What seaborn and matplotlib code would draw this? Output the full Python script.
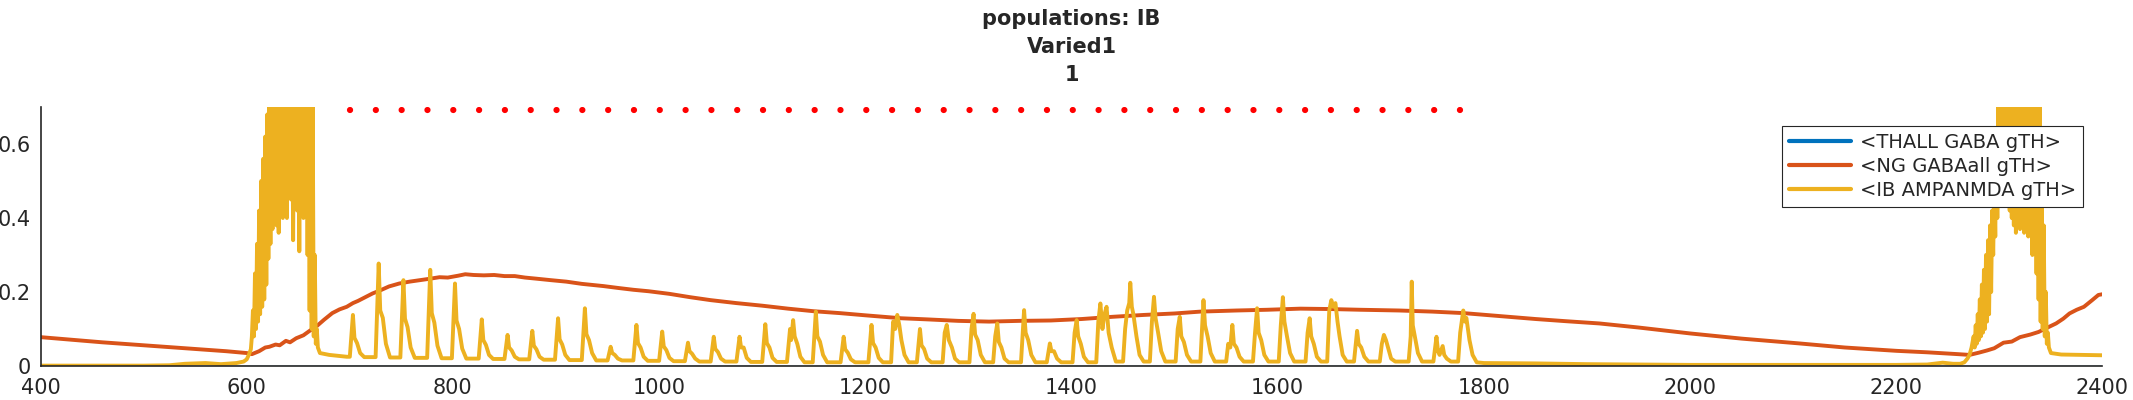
import matplotlib
matplotlib.use('Agg')
import numpy as np
import pandas as pd
import seaborn as sns
import matplotlib.pyplot as plt

# --- data (time in ms, conductance) ---
thall_t = [400, 2400]
thall_v = [0.0, 0.0]

ng_curve = [
    (400, .078), (430, .071), (460, .064), (490, .058), (520, .052), (550, .046),
    (580, .040), (600, .035), (605, .032), (612, .040), (618, .050), (622, .052),
    (628, .058), (632, .056), (638, .068), (642, .064), (648, .075), (655, .083),
    (661, .095), (668, .108), (675, .125), (683, .143), (690, .153), (697, .160),
    (703, .170), (708, .176), (715, .186), (722, .196), (730, .205), (738, .215),
    (748, .223), (758, .228), (768, .232), (778, .236), (787, .240), (795, .239),
    (805, .244), (812, .248), (820, .246), (830, .245), (840, .246), (850, .243),
    (860, .243), (870, .239), (881, .236), (895, .232), (910, .228), (925, .222),
    (946, .216), (960, .211), (975, .206), (990, .202), (1010, .195), (1030, .186),
    (1050, .178), (1075, .170), (1100, .163), (1125, .155), (1150, .148), (1175, .143),
    (1200, .137), (1235, .129), (1260, .126), (1290, .122), (1320, .120), (1350, .122),
    (1380, .123), (1410, .127), (1440, .133), (1470, .138), (1500, .142), (1525, .147),
    (1560, .150), (1590, .152), (1622, .155), (1650, .154), (1680, .152), (1718, .150),
    (1750, .147), (1780, .143), (1815, .135), (1850, .127), (1880, .121), (1912, .115),
    (1950, .104), (2000, .088), (2050, .074), (2106, .061), (2150, .050), (2200, .041),
    (2230, .037), (2260, .032), (2271, .030), (2280, .036), (2288, .042), (2295, .048),
    (2304, .063), (2312, .066), (2320, .078), (2330, .085), (2338, .092), (2346, .103),
    (2355, .115), (2362, .128), (2368, .142), (2375, .152), (2382, .160), (2390, .178),
    (2396, .192), (2400, .194),
]

ib_burst1 = [
    (400, .001), (450, .001), (500, .001), (525, .002), (540, .006), (560, .008),
    (575, .005), (590, .008), (597, .012), (600, .018), (602, .030), (604, .045),
    (605, .08), (606, .15), (607, .08), (608, .25), (609, .10), (610, .33),
    (611, .12), (612, .42), (613, .14), (614, .50), (615, .16), (616, .56),
    (617, .18), (618, .62), (619, .22), (620, .68), (621, .29), (622, .75),
    (623, .33), (624, .80), (625, .37), (626, .78), (627, .45), (628, .80),
    (629, .38), (630, .76), (631, .36), (632, .80), (633, .50), (634, .78),
    (635, .40), (636, .80), (637, .52), (638, .79), (639, .40), (640, .80),
    (641, .55), (642, .78), (643, .45), (644, .80), (645, .34), (646, .77),
    (647, .50), (648, .80), (649, .42), (650, .78), (651, .31), (652, .80),
    (653, .45), (654, .76), (655, .40), (656, .80), (657, .42), (658, .78),
    (659, .30), (660, .76), (661, .15), (662, .75), (663, .10), (664, .72),
    (665, .08), (666, .30), (667, .06), (668, .10), (669, .05), (671, .035),
    (680, .030), (690, .027), (697, .025),
]

ib_spikes = [
    (700, .025), (703, .138), (704.5, .076), (707, .062), (710, .035), (714, .024),
    (725, .024), (728, .277), (729.5, .150), (732, .130), (735, .060), (739, .023),
    (749, .023), (752, .232), (753.5, .128), (756, .105), (759, .050), (763, .022),
    (775, .022), (778, .260), (779.5, .143), (782, .117), (785, .055), (789, .021),
    (799, .021), (802, .223), (803.5, .123), (806, .100), (809, .047), (813, .020),
    (825, .020), (828, .126), (829.5, .070), (832, .057), (835, .030), (839, .019),
    (850, .019), (853, .084), (854.5, .050), (857, .042), (860, .025), (864, .018),
    (874, .018), (877, .095), (878.5, .055), (881, .045), (884, .025), (888, .017),
    (899, .017), (902, .129), (903.5, .072), (906, .058), (909, .030), (913, .016),
    (925, .016), (928, .156), (929.5, .086), (932, .070), (935, .035), (939, .015),
    (950, .015), (953, .052), (954.5, .035), (957, .030), (960, .020), (964, .015),
    (975, .015), (978, .111), (979.5, .062), (982, .050), (985, .025), (989, .014),
    (1000, .014), (1003, .093), (1004.5, .053), (1007, .043), (1010, .022), (1014, .013),
    (1025, .013), (1028, .063), (1029.5, .040), (1032, .033), (1035, .020), (1039, .012),
    (1050, .012), (1053, .079), (1054.5, .046), (1057, .038), (1060, .020), (1064, .012),
    (1075, .012), (1078, .079), (1079.5, .050), (1082, .050), (1085, .022), (1089, .011),
    (1100, .011), (1103, .113), (1104.5, .062), (1107, .050), (1110, .022), (1114, .011),
    (1124, .011), (1127, .100), (1128, .070), (1130, .124), (1131.5, .080), (1134, .060),
    (1137, .025), (1141, .010),
    (1149, .010), (1152, .147), (1153.5, .080), (1156, .066), (1159, .030), (1163, .010),
    (1176, .010), (1179, .079), (1180.5, .045), (1183, .036), (1186, .018), (1190, .010),
    (1203, .010), (1206, .111), (1207.5, .062), (1210, .050), (1213, .022), (1217, .010),
    (1225, .010), (1227, .120), (1229, .100), (1231, .138), (1233, .110), (1235, .070),
    (1238, .030), (1242, .010),
    (1250, .010), (1253, .100), (1254.5, .056), (1257, .046), (1260, .020), (1264, .010),
    (1275, .010), (1277, .090), (1279, .111), (1281, .070), (1284, .050), (1287, .020),
    (1291, .010),
    (1301, .010), (1303, .100), (1305, .141), (1306.5, .085), (1309, .070), (1312, .030),
    (1316, .010),
    (1324, .010), (1326, .080), (1328, .115), (1329.5, .065), (1332, .050), (1335, .020),
    (1339, .010),
    (1351, .010), (1354, .151), (1355.5, .090), (1358, .070), (1361, .030), (1365, .010),
    (1376, .010), (1379, .061), (1380.5, .040), (1383, .040), (1386, .020), (1390, .010),
    (1401, .010), (1403, .090), (1405, .124), (1406.5, .080), (1409, .060), (1412, .025),
    (1416, .010),
    (1424, .010), (1426, .120), (1428, .169), (1430, .100), (1432, .140), (1434, .160),
    (1436, .090), (1439, .050), (1443, .012),
    (1450, .012), (1452, .100), (1454, .150), (1456, .170), (1457, .225), (1458.5, .160),
    (1460, .140), (1463, .080), (1466, .030), (1470, .012),
    (1476, .012), (1478, .120), (1480, .187), (1481.5, .130), (1484, .090), (1487, .040),
    (1491, .012),
    (1501, .012), (1503, .100), (1505, .133), (1506.5, .080), (1509, .065), (1512, .030),
    (1516, .012),
    (1525, .012), (1528, .178), (1529.5, .110), (1532, .080), (1535, .035), (1539, .012),
    (1550, .012), (1552, .060), (1554, .050), (1556, .111), (1557.5, .060), (1560, .050),
    (1563, .025), (1567, .012),
    (1576, .012), (1578, .090), (1580, .156), (1581.5, .090), (1584, .070), (1587, .030),
    (1591, .012),
    (1601, .012), (1603, .110), (1605, .186), (1606.5, .120), (1609, .080), (1612, .035),
    (1616, .012),
    (1627, .012), (1629, .090), (1631, .129), (1632.5, .080), (1635, .060), (1638, .025),
    (1642, .012),
    (1648, .012), (1650, .150), (1652, .178), (1654, .160), (1656, .170), (1658, .120),
    (1660, .080), (1663, .030), (1667, .012),
    (1674, .012), (1677, .095), (1678.5, .060), (1681, .050), (1684, .025), (1688, .012),
    (1699, .012), (1701, .060), (1703, .084), (1705, .070), (1707, .050), (1710, .020),
    (1714, .012),
    (1727, .012), (1729, .080), (1730, .228), (1731, .110), (1733, .080), (1736, .035),
    (1740, .012),
    (1751, .012), (1754, .079), (1755.5, .040), (1757, .030), (1760, .054), (1761.5, .030),
    (1764, .020), (1768, .012),
    (1775, .012), (1777, .090), (1779, .130), (1780, .150), (1781.5, .120), (1783, .130),
    (1786, .070), (1789, .030), (1793, .010),
]

ib_quiet = [
    (1800, .008), (1850, .007), (1900, .005), (1950, .004), (2000, .003),
    (2100, .003), (2200, .003),
]

ib_burst2 = [
    (2230, .004), (2245, .009), (2255, .006), (2262, .006), (2266, .010), (2269, .020),
    (2271, .030), (2273, .050), (2275, .080), (2276, .05), (2277, .11), (2278, .06),
    (2279, .14), (2280, .07), (2281, .18), (2282, .08), (2283, .22), (2284, .09),
    (2285, .26), (2286, .10), (2287, .30), (2288, .12), (2289, .34), (2290, .14),
    (2291, .38), (2292, .20), (2293, .42), (2294, .30), (2295, .50), (2296, .35),
    (2297, .62), (2298, .40), (2299, .70), (2300, .45), (2301, .78), (2302, .48),
    (2303, .80), (2304, .44), (2305, .79), (2306, .50), (2307, .80), (2308, .46),
    (2309, .78), (2310, .42), (2311, .80), (2312, .40), (2313, .79), (2314, .38),
    (2315, .80), (2316, .36), (2317, .78), (2318, .40), (2319, .80), (2320, .37),
    (2321, .79), (2322, .42), (2323, .80), (2324, .36), (2325, .78), (2326, .40),
    (2327, .80), (2328, .35), (2329, .79), (2330, .38), (2331, .80), (2332, .30),
    (2333, .78), (2334, .32), (2335, .80), (2336, .25), (2337, .78), (2338, .18),
    (2339, .75), (2340, .12), (2341, .55), (2342, .10), (2343, .38), (2344, .08),
    (2345, .20), (2346, .06), (2347, .09), (2348, .05), (2350, .035), (2360, .031),
    (2380, .030), (2400, .029),
]

# stimulus marker (red dotted bar near the top)
stim_t = [700, 1781]
stim_v = [0.692, 0.692]

labels = ['<THALL GABA gTH>', '<NG GABAall gTH>', '<IB AMPANMDA gTH>']
colors = ['#0072BD', '#D95319', '#EDB120']

ng = pd.DataFrame(ng_curve, columns=['t', 'v'])
ib = pd.DataFrame(ib_burst1 + ib_spikes + ib_quiet + ib_burst2, columns=['t', 'v'])
thall = pd.DataFrame({'t': thall_t, 'v': thall_v})

sns.set_style('white')
plt.rcParams['font.family'] = ['DejaVu Sans']

fig = plt.figure(figsize=(21.33, 4.0), dpi=100)
ax = fig.add_axes([0.019, 0.085, 0.9667, 0.6475])

# THALL trace sits on zero, hidden under the axis line as in the original
sns.lineplot(data=thall, x='t', y='v', color=colors[0], lw=1.0, label=labels[0],
             estimator=None, sort=False, ax=ax)
sns.lineplot(data=ng, x='t', y='v', color=colors[1], lw=2.8, label=labels[1],
             estimator=None, sort=False, ax=ax)
sns.lineplot(data=ib, x='t', y='v', color=colors[2], lw=2.8, label=labels[2],
             estimator=None, sort=False, ax=ax)
ax.plot(stim_t, stim_v, color='red', lw=4.5, linestyle=(0, (0.01, 4.12)),
        dash_capstyle='round', zorder=4)

ax.set_xlim(400, 2400)
ax.set_ylim(0, 0.7)
ax.set_xticks(range(400, 2401, 200))
ax.set_yticks([0, 0.2, 0.4, 0.6])
ax.set_yticklabels(['0', '0.2', '0.4', '0.6'])
ax.set_xlabel('')
ax.set_ylabel('')

for s in ['top', 'right']:
    ax.spines[s].set_visible(False)
for s in ['left', 'bottom']:
    ax.spines[s].set_color('#262626')
    ax.spines[s].set_linewidth(1.2)

ax.tick_params(axis='both', direction='in', length=14, width=0.8,
               labelsize=15, colors='#262626')
ax.tick_params(axis='y', pad=7)
ax.tick_params(axis='x', pad=9)

ax.set_title('populations: IB\nVaried1\n1', fontsize=15, fontweight='bold',
             linespacing=1.5, pad=19)

handles, labs = ax.get_legend_handles_labels()
leg = ax.legend(handles[:3], labs[:3], loc='upper right', fontsize=14,
                frameon=True, fancybox=False, framealpha=1, edgecolor='#262626',
                borderaxespad=1.0, handlelength=3.2, handletextpad=0.45,
                labelspacing=0.25, borderpad=0.35)
leg.get_frame().set_linewidth(0.8)
for ln in leg.get_lines():
    ln.set_linewidth(3.0)
leg.set_zorder(10)

fig.savefig('out.png', dpi=100)
